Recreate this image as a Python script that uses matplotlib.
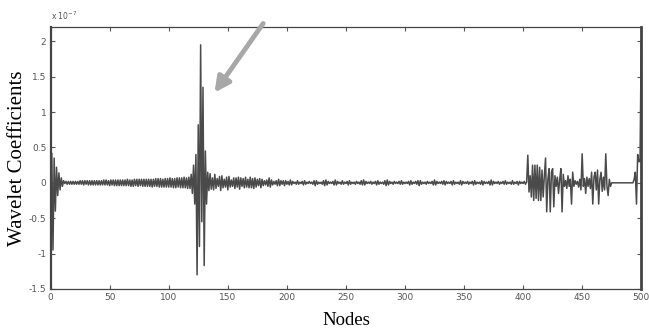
import numpy as np
import matplotlib
matplotlib.use("Agg")
import matplotlib.pyplot as plt
from matplotlib.ticker import FuncFormatter

# wavelet coefficients per node, in units of 1e-7
head = [-1.62, 0.42, -0.95, 0.35, -0.40, 0.22, -0.18, 0.14, -0.10, 0.07, -0.05, 0.03, -0.01]

ramp = [
    0.02, -0.02, 0.02, -0.02, 0.02, -0.02, 0.02, -0.02, 0.02, -0.02,
    0.02, -0.02, 0.03, -0.02, 0.03, -0.03, 0.03, -0.02, 0.03, -0.03,
    0.03, -0.03, 0.03, -0.03, 0.03, -0.03, 0.03, -0.03, 0.03, -0.03,
    0.03, -0.03, 0.04, -0.03, 0.04, -0.03, 0.03, -0.04, 0.04, -0.03,
    0.04, -0.04, 0.04, -0.04, 0.04, -0.04, 0.04, -0.04, 0.04, -0.04,
    0.04, -0.04, 0.05, -0.04, 0.04, -0.05, 0.04, -0.05, 0.05, -0.04,
    0.05, -0.05, 0.05, -0.04, 0.05, -0.05, 0.05, -0.05, 0.05, -0.05,
    0.05, -0.05, 0.05, -0.06, 0.05, -0.05, 0.06, -0.05, 0.06, -0.06,
    0.06, -0.06, 0.05, -0.06, 0.06, -0.06, 0.06, -0.06, 0.07, -0.06,
    0.06, -0.07, 0.06, -0.07, 0.07, -0.06, 0.07, -0.07, 0.07, -0.07,
    0.08, -0.07, 0.07, -0.08, 0.08, -0.08,
]

burst = [0.12, -0.15, 0.25, -0.30, 0.40, -1.30, 0.82, -0.90, 1.95, -0.55,
         1.35, -1.17, 0.45, -0.30, 0.15]

tail1 = [
    -0.11, 0.13, -0.09, 0.07, -0.10, 0.12, -0.08, 0.06, -0.05, 0.09,
    -0.11, 0.10, -0.07, 0.05, -0.06, 0.08, -0.10, 0.09, -0.06, 0.04,
    -0.05, 0.07, -0.08, 0.07, -0.06, 0.08, -0.09, 0.07, -0.05, 0.06,
    -0.07, 0.08, -0.06, 0.05, -0.07, 0.08, -0.07, 0.06, -0.08, 0.07,
    -0.06, 0.05, -0.04, 0.06, -0.07, 0.05, -0.04, 0.03, -0.03, 0.04,
    -0.05, 0.07, -0.06, 0.04, -0.03, 0.02, -0.02, 0.03, -0.04, 0.05,
    -0.04, 0.03, -0.02, 0.03, -0.04, 0.03, -0.02,
]

tail2 = [
    0.02, -0.03, 0.04, -0.03, 0.02, -0.01, 0.01, -0.02, 0.03, -0.02,
    0.01, -0.01, 0.02, -0.03, 0.03, -0.02, 0.01, -0.01, 0.02, -0.01,
    0.01, -0.02, 0.03, -0.04, 0.03, -0.02, 0.01, -0.01, 0.01, -0.02,
    0.03, -0.04, 0.04, -0.03, 0.02, -0.01, 0.01, -0.01, 0.02, -0.03,
    0.04, -0.03, 0.02, -0.01, 0.01, -0.02, 0.03, -0.02, 0.01, -0.01,
    0.02, -0.03, 0.03, -0.02, 0.01, -0.01, 0.01, -0.02, 0.02, -0.01,
    0.01, -0.02, 0.03, -0.03, 0.04, -0.03, 0.02, -0.01, 0.01, -0.01,
    0.02, -0.02, 0.01, -0.01, 0.02, -0.03, 0.03, -0.02, 0.01, -0.01,
    0.01, -0.02, 0.03, -0.04, 0.04, -0.03, 0.02, -0.01, 0.01, -0.02,
    0.02, -0.01, 0.01, -0.01, 0.02, -0.02, 0.03, -0.02, 0.01, -0.01,
    0.01, -0.01, 0.02, -0.03, 0.03, -0.02, 0.01, -0.01, 0.02, -0.02,
    0.03, -0.04, 0.03, -0.02, 0.01, -0.01, 0.01, -0.02, 0.02, -0.01,
    0.01, -0.01, 0.02, -0.03, 0.04, -0.03, 0.02, -0.01, 0.01, -0.01,
    0.02, -0.02, 0.03, -0.03, 0.02, -0.01, 0.01, -0.01, 0.02, -0.03,
    0.03, -0.02, 0.01, -0.01, 0.01, -0.02, 0.03, -0.03, 0.02, -0.01,
    0.01, -0.01, 0.02, -0.02, 0.01, -0.01, 0.02, -0.03, 0.03, -0.02,
    0.01, -0.01, 0.01, -0.02, 0.03, -0.03, 0.02, -0.01, 0.01, -0.01,
    0.02, -0.03, 0.04, -0.03, 0.02, -0.01, 0.01, -0.01, 0.02, -0.02,
    0.01, -0.01, 0.02, -0.02, 0.03, -0.02, 0.01, -0.01, 0.01, -0.02,
    0.03, -0.02, 0.01, -0.01, 0.02, -0.03, 0.02, -0.01, 0.01, -0.01,
    0.02, -0.02, 0.01,
]

zone = [
    0.39, -0.13, 0.10, -0.20, 0.25, -0.25, 0.25, -0.22, 0.25, -0.25,
    0.22, -0.25, 0.18, -0.20, 0.10, 0.35, -0.41, 0.05, 0.20, -0.41,
    0.15, 0.20, -0.34, 0.10, -0.05, 0.08, -0.15, 0.05, 0.20, -0.41,
    0.12, -0.05, 0.03, -0.08, 0.10, -0.05, 0.05, -0.30, 0.15, -0.05,
    0.03, -0.02, 0.02, -0.06, 0.05, -0.10, 0.41, -0.05, 0.06, -0.15,
    0.08, -0.05, 0.06, -0.08, 0.15, -0.30, 0.08, 0.15, -0.10, 0.18,
    -0.30, 0.05, 0.15, -0.12, 0.08, -0.10, 0.41, -0.05, -0.18, 0.05,
    -0.05, 0.00,
]

flat = [0.0] * 17

end = [0.00, 0.05, 0.15, -0.30, 0.40, 0.30, 0.30, 2.00]

coef = np.array(head + ramp + burst + tail1 + tail2 + zone + flat + end)
nodes = np.arange(len(coef))

gray = "#555555"

fig = plt.figure(figsize=(6.49, 3.31), dpi=100)
ax = fig.add_axes([0.078, 0.127, 0.910, 0.791])
ax.plot(nodes, coef, color="#4a4a4a", linewidth=1.1)

ax.set_xlim(0, 500)
ax.set_ylim(-1.5, 2.2)
ax.set_xticks(np.arange(0, 501, 50))
ax.set_yticks([-1.5, -1, -0.5, 0, 0.5, 1, 1.5, 2])
ax.yaxis.set_major_formatter(FuncFormatter(lambda v, p: "%g" % v))
ax.tick_params(direction="in", length=3, width=0.8, colors=gray,
               labelsize=6.5, top=True, right=True, pad=3)
for side, sp in ax.spines.items():
    sp.set_color("#444444")
    sp.set_linewidth(0.9)
ax.spines["right"].set_linewidth(2)
ax.spines["left"].set_linewidth(1.6)

fig.text(0.078, 0.935, r"x 10$^{-7}$", fontsize=5.5, color=gray, ha="left", va="bottom")

ax.set_ylabel("Wavelet Coefficients", family="Liberation Serif", fontsize=15, labelpad=1)
ax.set_xlabel("Nodes", family="Liberation Serif", fontsize=13.5, labelpad=7)

ax.annotate("", xy=(0.328, 0.713), xytext=(0.408, 0.936),
            xycoords="figure fraction", textcoords="figure fraction",
            arrowprops=dict(arrowstyle="-|>,head_width=0.45,head_length=0.9",
                            color="#a8a8a8", lw=3.5))

fig.savefig("out.png", dpi=100)
